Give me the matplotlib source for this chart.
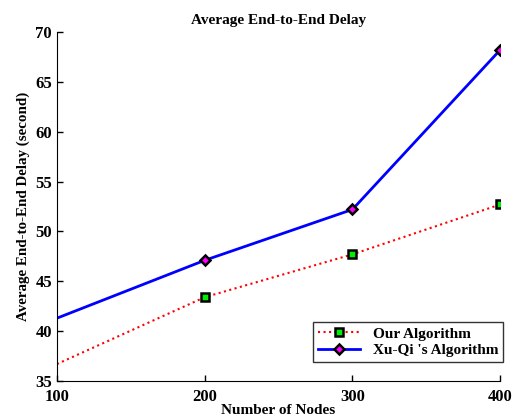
import matplotlib.pyplot as plt

plt.rcParams['font.family'] = ['Liberation Serif', 'DejaVu Serif']
plt.rcParams['font.weight'] = 'bold'

nodes = [100, 200, 300, 400]
our_delay = [36.7, 43.4, 47.7, 52.7]
xuqi_delay = [41.3, 47.1, 52.2, 68.2]

fig = plt.figure(figsize=(5.13, 4.19), dpi=100)
ax = fig.add_axes([0.111, 0.0907, 0.864, 0.833])

ax.plot(nodes, our_delay, ':', color='red', linewidth=1.5, marker='s',
        markersize=5.5, markerfacecolor='#00ee00', markeredgecolor='black',
        markeredgewidth=1.8, markevery=[1, 2, 3], label='Our Algorithm')
ax.plot(nodes, xuqi_delay, '-', color='blue', linewidth=2, marker='D',
        markersize=5.5, markerfacecolor='magenta', markeredgecolor='black',
        markeredgewidth=1.8, markevery=[1, 2, 3], label="Xu-Qi 's Algorithm")

ax.set_xlim(100, 400)
ax.set_ylim(35, 70)
ax.set_xticks([100, 200, 300, 400])
ax.set_yticks(range(35, 71, 5))
ax.spines['top'].set_visible(False)
ax.spines['right'].set_visible(False)
ax.tick_params(direction='in', labelsize=12, width=1, length=4)
ax.tick_params(axis='x', pad=6)
for lbl in ax.get_xticklabels() + ax.get_yticklabels():
    lbl.set_fontweight('bold')

ax.set_title('Average End-to-End Delay', fontsize=11, fontweight='bold')
ax.set_xlabel('Number of Nodes', fontsize=11, fontweight='bold', labelpad=-1)
ax.set_ylabel('Average End-to-End Delay (second)', fontsize=10.8, fontweight='bold')

leg = ax.legend(loc='lower right', bbox_to_anchor=(1.023, 0.033), fancybox=False,
                edgecolor='black', prop={'weight': 'bold', 'size': 11},
                handlelength=2.8, labelspacing=0.2, borderpad=0.3)
leg.get_frame().set_linewidth(1)

plt.savefig('out.png', dpi=100)
